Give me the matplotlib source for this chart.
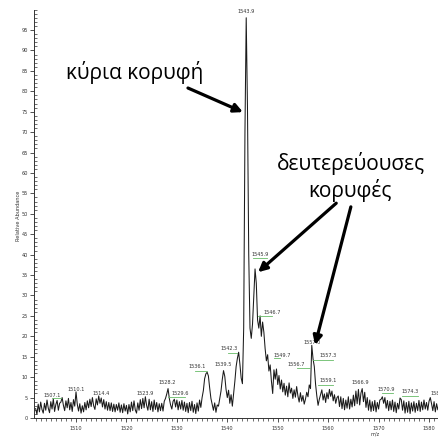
import numpy as np
import matplotlib
matplotlib.use("Agg")
import matplotlib.pyplot as plt
from matplotlib.ticker import MultipleLocator

# ---------------- data ----------------
mz_start, mz_step = 1502.0, 0.25
intensity = [
    # 1502.00 - 1506.75
    2.3, 0.9, 3.4, 1.5, 3.9, 2.1, 1.2, 3.6, 1.9, 4.4, 2.4, 1.3, 4.0, 2.2, 4.7, 1.6, 3.3, 4.3, 1.9, 3.6,
    # 1507.00 - 1511.75
    3.9, 5.0, 3.1, 1.8, 4.2, 2.5, 4.8, 2.0, 3.8, 1.6, 4.5, 2.9, 6.4, 3.4, 1.7, 3.5, 1.2, 3.0, 1.5, 3.8,
    # 1512.00 - 1516.75
    2.0, 4.2, 2.5, 4.6, 2.8, 5.0, 3.0, 2.1, 4.7, 3.2, 5.4, 3.6, 4.9, 2.7, 4.5, 2.2, 4.0, 1.9, 3.8, 1.8,
    # 1517.00 - 1521.75
    3.7, 1.6, 3.4, 1.5, 3.3, 1.9, 3.7, 1.4, 3.2, 1.3, 3.5, 1.7, 3.1, 1.0, 3.3, 1.5, 3.9, 1.8, 4.2, 2.0,
    # 1522.00 - 1526.75
    1.2, 3.7, 1.9, 4.5, 2.3, 4.8, 2.5, 5.2, 3.1, 1.9, 4.6, 2.0, 4.0, 1.6, 4.4, 2.1, 3.8, 1.5, 3.5, 1.8,
    # 1527.00 - 1531.75
    3.6, 1.7, 4.1, 4.8, 5.9, 7.2, 4.8, 3.2, 2.2, 4.1, 4.6, 2.7, 4.4, 2.0, 4.0, 2.2, 4.3, 1.9, 3.9, 1.6,
    # 1532.00 - 1536.75
    3.6, 1.3, 3.8, 1.8, 4.1, 1.4, 3.3, 1.1, 3.7, 1.7, 4.4, 2.6, 5.0, 6.7, 9.6, 10.8, 11.2, 10.3, 7.4, 4.8,
    # 1537.00 - 1541.75
    3.3, 1.9, 3.7, 1.4, 3.2, 2.9, 4.8, 6.6, 9.4, 11.6, 10.2, 7.0, 5.0, 6.8, 3.6, 5.7, 2.9, 6.0, 9.0, 12.6,
    # 1542.00 - 1546.75
    14.6, 16.1, 13.2, 9.8, 8.4, 22.0, 70.0, 98.0, 76.0, 40.0, 22.0, 19.5, 23.0, 30.0, 36.5, 33.0, 24.0, 22.0, 25.0, 20.0,
    # 1547.00 - 1551.75
    23.5, 21.0, 17.0, 14.0, 15.5, 11.5, 13.0, 9.0, 6.0, 11.8, 9.5, 12.0, 8.2, 10.4, 7.1, 9.3, 6.4, 8.5, 5.6, 7.8,
    # 1552.00 - 1556.75
    5.2, 8.6, 6.1, 7.3, 4.8, 6.9, 5.1, 7.7, 5.4, 3.9, 6.2, 4.1, 5.5, 3.4, 4.6, 6.3, 5.2, 8.1, 7.2, 17.8,
    # 1557.00 - 1561.75
    14.5, 12.6, 8.3, 5.4, 3.1, 4.6, 5.8, 6.9, 4.4, 5.9, 3.8, 6.2, 4.7, 7.0, 5.3, 6.6, 4.2, 5.7, 3.6, 5.0,
    # 1562.00 - 1566.75
    5.4, 2.8, 5.2, 2.3, 4.8, 2.0, 4.4, 2.4, 5.2, 2.2, 4.6, 2.7, 5.6, 3.0, 6.6, 3.5, 7.0, 3.2, 6.1, 7.2,
    # 1567.00 - 1571.75
    4.0, 6.3, 2.6, 5.0, 1.9, 4.4, 1.6, 4.0, 1.8, 4.3, 1.5, 3.8, 2.2, 4.4, 4.6, 5.2, 3.6, 5.0, 2.4, 4.3,
    # 1572.00 - 1576.75
    1.8, 4.1, 2.0, 4.4, 1.6, 3.9, 1.3, 3.6, 2.2, 4.9, 4.5, 1.9, 4.2, 1.2, 3.8, 1.4, 4.1, 1.1, 3.7, 1.7,
    # 1577.00 - 1581.75
    4.0, 1.4, 3.6, 1.8, 4.3, 1.6, 3.9, 2.0, 4.4, 2.2, 3.8, 1.9, 4.1, 5.0, 3.5, 1.8, 4.0, 1.5, 3.5, 2.0,
    3.4,
]
mz = mz_start + mz_step * np.arange(len(intensity))

peak_labels = ["1507.1", "1510.1", "1514.4", "1523.9", "1528.2", "1529.6", "1536.1",
               "1539.5", "1542.3", "1543.9", "1545.9", "1546.7", "1549.7", "1556.7",
               "1557.0", "1557.3", "1559.1", "1566.9", "1570.9", "1574.3", "1580.3"]

x_ticks = [1510, 1520, 1530, 1540, 1550, 1560, 1570, 1580]
y_ticks = list(range(0, 100, 5))

annot_main = "κύρια κορυφή"
annot_second_1 = "δευτερεύουσες"
annot_second_2 = "κορυφές"

# ---------------- layout ----------------
# label positions (x in m/z, y in % intensity) and leader lines (x0, x1, y)
label_pos = [(1505.2, 5.6), (1510.0, 6.9), (1514.9, 6.1), (1523.7, 6.1), (1528.0, 8.6),
             (1530.6, 5.9), (1534.0, 12.5), (1539.1, 13.2), (1540.3, 17.1), (1543.75, 99.6),
             (1546.5, 40.1), (1548.9, 25.8), (1550.8, 15.4), (1553.6, 13.2), (1556.8, 18.6),
             (1560.0, 15.2), (1560.0, 9.1), (1566.3, 8.6), (1571.5, 7.1), (1576.2, 6.4),
             (1580.2, 5.9)]
leaders = [(1505.2, 1507.0, 4.9), (1528.2, 1531.6, 5.1), (1533.6, 1536.0, 11.5),
           (1540.1, 1541.9, 15.9), (1545.1, 1547.9, 39.2), (1546.1, 1548.9, 24.9),
           (1549.3, 1550.5, 14.7), (1553.8, 1556.4, 12.2), (1557.0, 1561.0, 14.2),
           (1558.0, 1561.0, 8.1), (1570.7, 1572.9, 6.1), (1574.6, 1577.8, 5.4)]

W, H = 438, 437
fig = plt.figure(figsize=(W / 100, H / 100), dpi=100)
ax = fig.add_axes([34 / W, (H - 418) / H, (W - 34) / W, (418 - 9.6) / H])

ax.plot(mz, intensity, color="#1a1a1a", lw=0.75)
ax.set_xlim(1501.67, 1581.78)
ax.set_ylim(0, 100)

for s in ("top", "right"):
    ax.spines[s].set_visible(False)
for s in ("left", "bottom"):
    ax.spines[s].set_linewidth(0.7)
    ax.spines[s].set_color("#333333")

ax.set_xticks(x_ticks)
ax.set_yticks(y_ticks)
ax.xaxis.set_minor_locator(MultipleLocator(1))
ax.yaxis.set_minor_locator(MultipleLocator(1))
ax.tick_params(axis="both", which="major", labelsize=3.6, length=3, width=0.6,
               colors="#333333", pad=1.5)
ax.tick_params(axis="y", which="minor", direction="in", length=1.8, width=0.5, colors="#333333")
ax.tick_params(axis="x", which="minor", direction="out", length=1.8, width=0.5, colors="#333333")
ax.tick_params(axis="x", which="major", pad=2.5)

fig.text(18 / W, 1 - 216 / H, "Relative Abundance", rotation=90, fontsize=3.6,
         color="#333333", ha="center", va="center")
fig.text(375 / W, 1 - 434 / H, "m/z", fontsize=3.6, color="#333333", ha="center", va="center")

for txt, (lx, ly) in zip(peak_labels, label_pos):
    ha = "left" if txt == "1580.3" else "center"
    ax.text(lx, ly, txt, fontsize=3.6, color="#333333", ha=ha, va="center", clip_on=False)
for x0, x1, yy in leaders:
    ax.plot([x0, x1], [yy, yy], color="#66bb66", lw=0.6)

greek = ["Open Sans", "DejaVu Sans"]
ax.text(1521.7, 84.5, annot_main, fontsize=15, family=greek, ha="center", va="center")
ax.text(1564.5, 62.4, annot_second_1, fontsize=15, family=greek, ha="center", va="center")
ax.text(1564.3, 55.8, annot_second_2, fontsize=15, family=greek, ha="center", va="center")

arrow = dict(arrowstyle="-|>", lw=2.3, color="black", mutation_scale=13, shrinkA=0, shrinkB=0)
ax.annotate("", xy=(1543.1, 74.9), xytext=(1532.2, 80.8), arrowprops=arrow)
ax.annotate("", xy=(1546.1, 35.7), xytext=(1561.6, 52.6), arrowprops=arrow)
ax.annotate("", xy=(1557.4, 17.9), xytext=(1564.5, 51.7), arrowprops=arrow)

fig.savefig("out.png", dpi=100)
